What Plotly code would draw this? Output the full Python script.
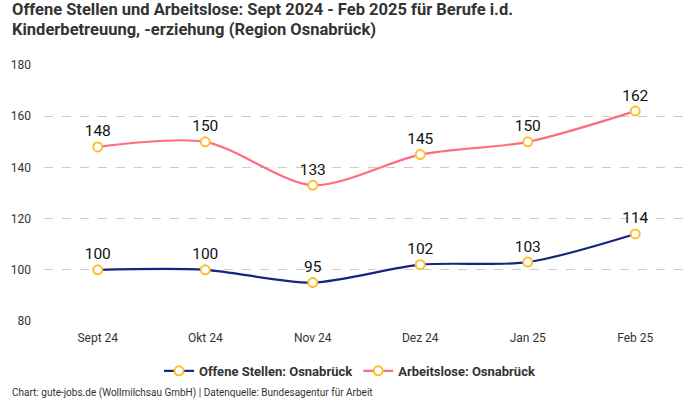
import plotly.graph_objects as go

months = ["Sept 24", "Okt 24", "Nov 24", "Dez 24", "Jan 25", "Feb 25"]
offene_stellen = [100, 100, 95, 102, 103, 114]
arbeitslose = [148, 150, 133, 145, 150, 162]
y_ticks = [80, 100, 120, 140, 160, 180]

FONT = "Liberation Sans Narrow, Roboto"
fig = go.Figure()

def add(name, vals, color):
    fig.add_trace(go.Scatter(
        x=months, y=vals, name="<b>" + name + "</b>", mode="lines+markers+text",
        line=dict(color=color, width=2.2, shape="spline", smoothing=0.8),
        marker=dict(size=9, color="white", line=dict(color="#fbc02d", width=2)),
        text=[str(v) for v in vals], textposition="top center",
        textfont=dict(size=15.5, color="#111", family=FONT),
        cliponaxis=False,
    ))

add("Offene Stellen: Osnabrück", offene_stellen, "#17237e")
add("Arbeitslose: Osnabrück", arbeitslose, "#ff6b81")

fig.update_layout(
    width=700, height=400,
    margin=dict(l=44, r=11, t=65, b=79),
    paper_bgcolor="white", plot_bgcolor="white",
    font=dict(family=FONT, color="#333"),
    legend=dict(orientation="h", x=(350 - 44) / 645, xanchor="center",
                y=-0.195, yanchor="middle",
                font=dict(size=13, color="#333", family=FONT)),
    showlegend=True,
)
for i, line in enumerate(["Offene Stellen und Arbeitslose: Sept 2024 - Feb 2025 für Berufe i.d.",
                          "Kinderbetreuung, -erziehung (Region Osnabrück)"]):
    fig.add_annotation(text="<b>" + line + "</b>", xref="paper", yref="paper",
                       x=(10 - 44) / 645, y=1 + (65 - 9.5 - 19.5 * i) / 256,
                       xanchor="left", yanchor="middle", showarrow=False,
                       font=dict(size=16.5, color="#333", family=FONT))
fig.update_xaxes(type="category", range=[-0.5, 5.5], showgrid=False, showline=False,
                 ticks="", tickangle=0, tickfont=dict(size=12, color="#333"),
                 ticklabelstandoff=8)
fig.update_yaxes(range=[80, 180], tickvals=y_ticks, showgrid=True, gridcolor="#cccccc",
                 griddash="dash", gridwidth=1, zeroline=False, showline=False,
                 tickfont=dict(size=12, color="#333"), ticklabelstandoff=12)
fig.add_annotation(text="Chart: gute-jobs.de (Wollmilchsau GmbH) | Datenquelle: Bundesagentur für Arbeit",
                   xref="paper", yref="paper", x=(10 - 44) / 645, y=-72 / 256,
                   xanchor="left", yanchor="middle",
                   showarrow=False, font=dict(size=10, color="#333", family=FONT))
fig.write_html("out.html", post_script="document.body.style.margin='0';",
               config={"displayModeBar": False})
